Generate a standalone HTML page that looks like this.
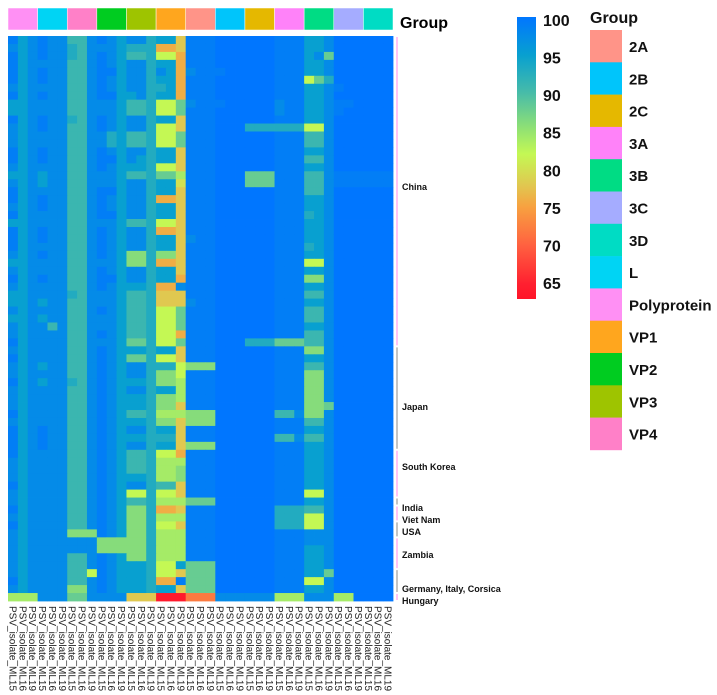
<!DOCTYPE html>
<html><head><meta charset="utf-8"><style>
body{margin:0;background:#fff;font-family:"Liberation Sans",Arial,sans-serif}
svg{display:block}
</style></head><body>
<svg id="chart" width="717" height="695" xmlns="http://www.w3.org/2000/svg">
<g id="heat"></g>
<g id="annot"></g>
<text x="400" y="28" font-size="16" font-weight="bold" fill="#000">Group</text>
<g id="rowann"></g>
<g id="collabels"></g>
<defs><linearGradient id="cbgrad" x1="0" y1="1" x2="0" y2="0"></linearGradient></defs>
<g id="colorbar"></g>
<g id="legend"></g>
</svg>
<script>
const groups = ["Polyprotein","L","VP4","VP2","VP3","VP1","2A","2B","2C","3A","3B","3C","3D"];
const isolates = ["PSV_isolate_ML15","PSV_isolate_ML16","PSV_isolate_ML19"];
const groupColors = {"2A":"#ff9488","2B":"#00c5fb","2C":"#e5b800","3A":"#ff82f9","3B":"#00dc84","3C":"#a5acff","3D":"#00dcc4","L":"#00d4f4","Polyprotein":"#ff90f4","VP1":"#ffa61e","VP2":"#00cc20","VP3":"#9ec400","VP4":"#ff80c8"};
const legendOrder = ["2A","2B","2C","3A","3B","3C","3D","L","Polyprotein","VP1","VP2","VP3","VP4"];
const codeValues = {"0":100,"1":99,"2":97.5,"3":95,"4":93,"5":91,"6":88,"7":86,"8":84,"9":82,"a":80,"b":78,"c":76,"d":74,"e":72,"f":70,"g":68,"h":64};
const rowCodes = [
"132 122 552 123 224 33b 111 000 000 111 332 000 000",
"232 122 452 223 444 ccb 111 000 000 111 332 000 000",
"132 122 452 123 554 99c 111 000 000 111 326 000 000",
"132 222 552 123 224 33c 111 000 000 111 332 000 000",
"132 122 552 113 224 23c 211 100 000 111 332 000 000",
"132 122 552 123 224 33c 111 000 000 111 964 000 000",
"232 222 552 123 224 43c 111 000 000 111 332 100 000",
"132 122 552 113 324 33c 111 000 000 111 332 000 000",
"332 222 552 223 554 996 211 100 000 211 332 110 000",
"332 222 552 223 554 996 111 000 000 211 332 100 000",
"132 122 452 123 224 33b 111 000 000 111 332 000 000",
"232 122 552 123 224 99b 111 000 444 444 992 000 000",
"232 222 552 243 554 996 111 000 000 111 552 000 000",
"232 222 552 243 554 996 111 000 000 111 552 000 000",
"132 122 552 123 224 33b 111 000 000 111 332 000 000",
"132 122 552 113 234 33b 111 000 000 111 552 000 000",
"232 222 552 123 334 99b 111 000 000 111 332 000 000",
"332 322 552 223 554 668 111 000 666 111 552 111 111",
"232 322 552 223 224 33a 111 000 666 111 552 111 111",
"132 222 552 113 224 33b 111 000 000 111 552 000 000",
"132 122 552 123 224 ccb 111 000 000 111 332 000 000",
"232 122 552 123 224 33b 111 000 000 111 332 000 000",
"132 222 552 113 224 33b 111 000 000 111 432 000 000",
"332 222 552 223 554 99b 111 000 000 111 332 000 000",
"132 122 552 123 224 ccb 111 000 000 111 332 000 000",
"132 122 552 123 224 33b 211 000 000 111 332 000 000",
"132 222 552 123 224 33b 111 000 000 111 432 000 000",
"232 122 552 123 774 77b 111 000 000 111 332 000 000",
"332 222 552 223 774 ccb 111 000 000 111 992 000 000",
"232 222 552 123 224 33b 111 000 000 111 332 000 000",
"132 122 552 113 224 33c 111 000 000 111 772 000 000",
"232 222 552 123 334 cc2 111 000 000 111 332 000 000",
"332 222 452 223 554 bbb 111 000 000 111 552 000 000",
"332 322 552 223 554 bbb 211 000 000 111 332 000 000",
"232 222 552 123 554 996 111 000 000 111 552 000 000",
"332 322 552 223 554 996 111 000 000 111 552 000 000",
"232 252 552 223 554 996 111 000 000 111 332 000 000",
"232 222 552 123 554 99c 111 000 000 111 552 000 000",
"132 222 552 223 664 996 111 000 444 666 552 000 000",
"232 222 552 123 334 33b 111 000 000 111 772 000 000",
"132 222 552 123 664 99b 111 000 000 111 332 000 000",
"232 322 552 123 224 449 777 000 000 111 552 000 000",
"232 222 552 123 224 779 111 000 000 111 772 000 000",
"132 322 452 123 334 778 111 000 000 111 772 000 000",
"232 222 552 123 224 338 111 000 000 111 772 000 000",
"232 222 552 123 334 778 111 000 000 111 772 000 000",
"232 222 552 123 334 77b 111 000 000 111 776 000 000",
"132 222 552 123 554 888 777 000 000 552 772 000 000",
"232 222 552 123 334 77b 777 000 000 111 552 000 000",
"132 122 552 123 224 33b 111 000 000 111 332 000 000",
"132 122 552 123 334 44b 111 000 000 552 552 000 000",
"132 122 552 123 224 33b 777 000 000 111 332 000 000",
"132 222 552 123 554 99c 111 000 000 111 332 000 000",
"232 222 552 123 554 888 111 000 000 111 332 000 000",
"232 222 552 123 554 887 111 000 000 111 332 000 000",
"232 222 552 123 334 887 111 000 000 111 332 000 000",
"132 222 552 123 224 55b 111 000 000 111 332 000 000",
"232 222 552 123 994 99b 111 000 000 111 992 000 000",
"232 222 552 123 554 888 666 000 000 111 332 000 000",
"132 222 552 123 774 ccb 111 000 000 444 552 000 000",
"232 222 552 123 774 888 111 000 000 444 992 000 000",
"132 222 552 123 774 99b 111 000 000 444 992 000 000",
"232 222 777 123 774 888 111 000 000 111 222 000 000",
"232 222 222 777 774 888 111 000 000 111 222 000 000",
"232 222 222 777 774 888 111 000 000 111 332 000 000",
"232 222 552 123 774 888 111 000 000 111 332 000 000",
"232 222 552 123 334 993 666 000 000 111 332 000 000",
"232 222 559 123 334 99b 666 000 000 111 336 000 000",
"132 222 552 123 334 cc1 666 000 000 111 992 000 000",
"232 222 772 123 334 33b 666 000 000 111 332 000 000",
"888 222 662 222 bbb hhh eee 222 222 888 222 880 000"
];
const countries = ["China","Japan","South Korea","India","Viet Nam","USA","Zambia","Germany, Italy, Corsica","Hungary"];
const countryStartRow = [0,39,52,58,59,61,63,67,70];
const countryEndRow = [39,52,58,59,61,63,67,70,71];
const scaleTicks = [100,95,90,85,80,75,70,65];

const NS="http://www.w3.org/2000/svg";
function mk(tag,attrs,parent){const e=document.createElementNS(NS,tag);for(const k in attrs)e.setAttribute(k,attrs[k]);parent.appendChild(e);return e;}
const values = rowCodes.map(r=>r.replace(/ /g,'').split('').map(c=>codeValues[c]));
const nCols = groups.length*isolates.length, nRows = values.length;
const X0=8,X1=393,Y0=36,Y1=601;
const cw=(X1-X0)/nCols, rh=(Y1-Y0)/nRows;
const xCol=i=>X0+i*cw, yRow=r=>Y0+r*rh;
const stops=[[63,[255,20,40]],[65,[255,32,48]],[70,[255,96,64]],[75,[248,160,64]],[78,[224,200,80]],[82,[196,248,84]],[85,[150,228,112]],[90,[72,188,168]],[95,[8,160,208]],[100,[0,118,255]]];
function color(v){v=Math.max(63,Math.min(100,v));for(let i=1;i<stops.length;i++){if(v<=stops[i][0]){const a=stops[i-1],b=stops[i],t=(v-a[0])/(b[0]-a[0]);const c=a[1].map((x,j)=>Math.round(x+(b[1][j]-x)*t));return `rgb(${c})`;}}return 'rgb(0,118,255)';}
const heat=document.getElementById('heat');
values.forEach((row,r)=>row.forEach((v,c)=>{
 const e=mk('rect',{x:xCol(c).toFixed(2),y:yRow(r).toFixed(2),width:(cw+0.4).toFixed(2),height:(rh+0.4).toFixed(2),fill:color(v)},heat);
 
 
}));
const annot=document.getElementById('annot');
groups.forEach((g,i)=>{
 const e=mk('rect',{x:xCol(i*3).toFixed(2),y:8,width:(cw*3).toFixed(2),height:22,fill:groupColors[g],stroke:'#fff','stroke-width':0.5},annot);
 
 
});
const lab=document.getElementById('collabels');
for(let c=0;c<nCols;c++){
 const cx=xCol(c)+cw/2-3.5;
 const t=mk('text',{x:0,y:0,transform:`translate(${cx.toFixed(2)},606) rotate(90)`,'font-size':10,fill:'#222'},lab);
 t.textContent=isolates[c%3];
 
 
}
const ra=document.getElementById('rowann');
const labY=[187,407,467,508,520,532,555,589,601];
countries.forEach((n,i)=>{
 const y1=yRow(countryStartRow[i])+1,y2=yRow(countryEndRow[i])-1;
 const l=mk('line',{x1:397,x2:397,y1:y1,y2:y2,stroke:i%2?'#888':'#ff88ee','stroke-width':1},ra);
 
 
 const t=mk('text',{x:402,y:labY[i]+3,'font-size':9,'font-weight':'bold',fill:'#111'},ra);
 t.textContent=n;
 
 
});
const grad=document.getElementById('cbgrad');
for(let v=63;v<=100;v+=1){mk('stop',{offset:((v-63)/37).toFixed(3),'stop-color':color(v)},grad);}
const cb=document.getElementById('colorbar');
const sy=v=>20+(100-v)*(263/35);
const bar=mk('rect',{x:517,y:17,width:19,height:282,fill:'url(#cbgrad)'},cb);


scaleTicks.forEach(v=>{
 const t=mk('text',{x:543,y:(sy(v)+6).toFixed(1),'font-size':16,'font-weight':'bold',fill:'#111'},cb);
 t.textContent=v;
 
 
});
const lg=document.getElementById('legend');
const lt=mk('text',{x:590,y:23,'font-size':16,'font-weight':'bold',fill:'#111'},lg);
lt.textContent='Group';


legendOrder.forEach((g,i)=>{
 const y=30+i*32.3;
 const r=mk('rect',{x:590,y:y.toFixed(1),width:32,height:32.6,fill:groupColors[g]},lg);
 
 
 const t=mk('text',{x:629,y:(y+22).toFixed(1),'font-size':15,'font-weight':'bold',fill:'#111'},lg);
 t.textContent=g;
 
 
});
</script>
</body></html>
